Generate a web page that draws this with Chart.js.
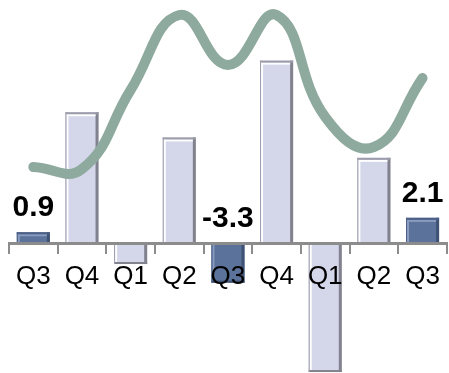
<!DOCTYPE html>
<html>
<head>
<meta charset="utf-8">
<script src="https://cdn.jsdelivr.net/npm/chart.js@4"></script>
<style>
  html, body { margin: 0; padding: 0; background: #ffffff; }
  #wrap { width: 449px; height: 373px; position: relative; }
</style>
</head>
<body>
<div id="wrap"><canvas id="c"></canvas></div>
<script>
// Quarter labels along the horizontal axis
const quarters = ['Q3', 'Q4', 'Q1', 'Q2', 'Q3', 'Q4', 'Q1', 'Q2', 'Q3'];
// Quarterly change (bars)
const changeValues = [0.9, 10.9, -1.75, 8.8, -3.3, 15.2, -10.75, 7.1, 2.1];
// Quarters whose bars are highlighted and labelled with their value
const highlighted = [0, 4, 8];
// Trend series (secondary, unlabelled scale)
const trendValues = [20.6, 20.4, 28.3, 35.8, 30.8, 35.8, 25.6, 22.6, 29.5];

const LIGHT = '#d4d7ea';
const DARK = '#5b729a';
const barColors = changeValues.map((v, i) => highlighted.includes(i) ? DARK : LIGHT);

// Bevelled edges for the bars
const bevel = {
  id: 'bevel',
  afterDatasetDraw(chart, args) {
    if (chart.data.datasets[args.index].type !== 'bar') return;
    const ctx = chart.ctx;
    ctx.save();
    args.meta.data.forEach((bar, i) => {
      const dark = highlighted.includes(i);
      const left = bar.x - bar.width / 2;
      const right = bar.x + bar.width / 2;
      const top = Math.min(bar.y, bar.base);
      const bottom = Math.max(bar.y, bar.base);
      const h = bottom - top;
      if (h < 1) return;
      const hi = dark ? '#8a9dc0' : '#ffffff';
      const sh = dark ? '#3f5274' : '#82828e';
      const outline = dark ? '#4d6088' : '#9c9cab';
      // right shade
      ctx.fillStyle = sh;
      ctx.fillRect(right - 3, top, 3, h);
      // left highlight
      ctx.fillStyle = hi;
      ctx.fillRect(left + 1, top + 1, 2, h - 1);
      // top / bottom edges
      if (bar.y <= bar.base) {
        ctx.fillStyle = hi;
        ctx.fillRect(left + 1, top + 2, bar.width - 4, 2);
        ctx.fillStyle = outline;
        ctx.fillRect(left, top, bar.width, 2);
      } else {
        ctx.fillStyle = sh;
        ctx.fillRect(left, bottom - 2, bar.width, 2);
      }
      ctx.strokeStyle = outline;
      ctx.lineWidth = 1;
      ctx.beginPath();
      ctx.moveTo(left + 0.5, top);
      ctx.lineTo(left + 0.5, bottom);
      ctx.stroke();
    });
    ctx.restore();
  }
};

// Value labels above the highlighted bars
const valueLabels = {
  id: 'valueLabels',
  afterDraw(chart) {
    const idx = chart.data.datasets.findIndex(d => d.type === 'bar');
    const meta = chart.getDatasetMeta(idx);
    const ctx = chart.ctx;
    ctx.save();
    ctx.font = 'bold 30px "Liberation Sans", Arial, sans-serif';
    ctx.fillStyle = '#000000';
    ctx.textAlign = 'center';
    ctx.textBaseline = 'alphabetic';
    highlighted.forEach(i => {
      const bar = meta.data[i];
      const y = Math.min(bar.y, bar.base) - 16;
      ctx.fillText(changeValues[i].toFixed(1), bar.x, y);
    });
    ctx.restore();
  }
};

new Chart(document.getElementById('c'), {
  data: {
    labels: quarters,
    datasets: [
      {
        type: 'line',
        data: trendValues,
        yAxisID: 'y1',
        borderColor: '#8ea99e',
        borderWidth: 10,
        borderCapStyle: 'round',
        borderJoinStyle: 'round',
        tension: 0.45,
        pointRadius: 0,
        fill: false
      },
      {
        type: 'bar',
        data: changeValues,
        yAxisID: 'y',
        backgroundColor: barColors,
        borderWidth: 0,
        categoryPercentage: 1,
        barPercentage: 0.68
      }
    ]
  },
  options: {
    responsive: true,
    maintainAspectRatio: false,
    animation: false,
    layout: { padding: { left: 9, right: 2, top: 0, bottom: 0 } },
    plugins: { legend: { display: false }, tooltip: { enabled: false } },
    scales: {
      x: {
        position: { y: 0 },
        grid: {
          display: true,
          offset: true,
          drawOnChartArea: false,
          drawTicks: true,
          tickLength: 9,
          color: '#8c8c8c',
          lineWidth: 2,
          z: 1
        },
        border: { display: true, color: '#8c8c8c', width: 3, z: 1 },
        ticks: {
          color: '#000000',
          padding: 9,
          maxRotation: 0,
          autoSkip: false,
          z: 2,
          font: { family: '"Liberation Sans", Arial, sans-serif', size: 26 }
        }
      },
      y: {
        display: false,
        min: -10.83,
        max: 20.25
      },
      y1: {
        display: false,
        min: 0,
        max: 37.3
      }
    }
  },
  plugins: [bevel, valueLabels]
});
</script>
</body>
</html>
